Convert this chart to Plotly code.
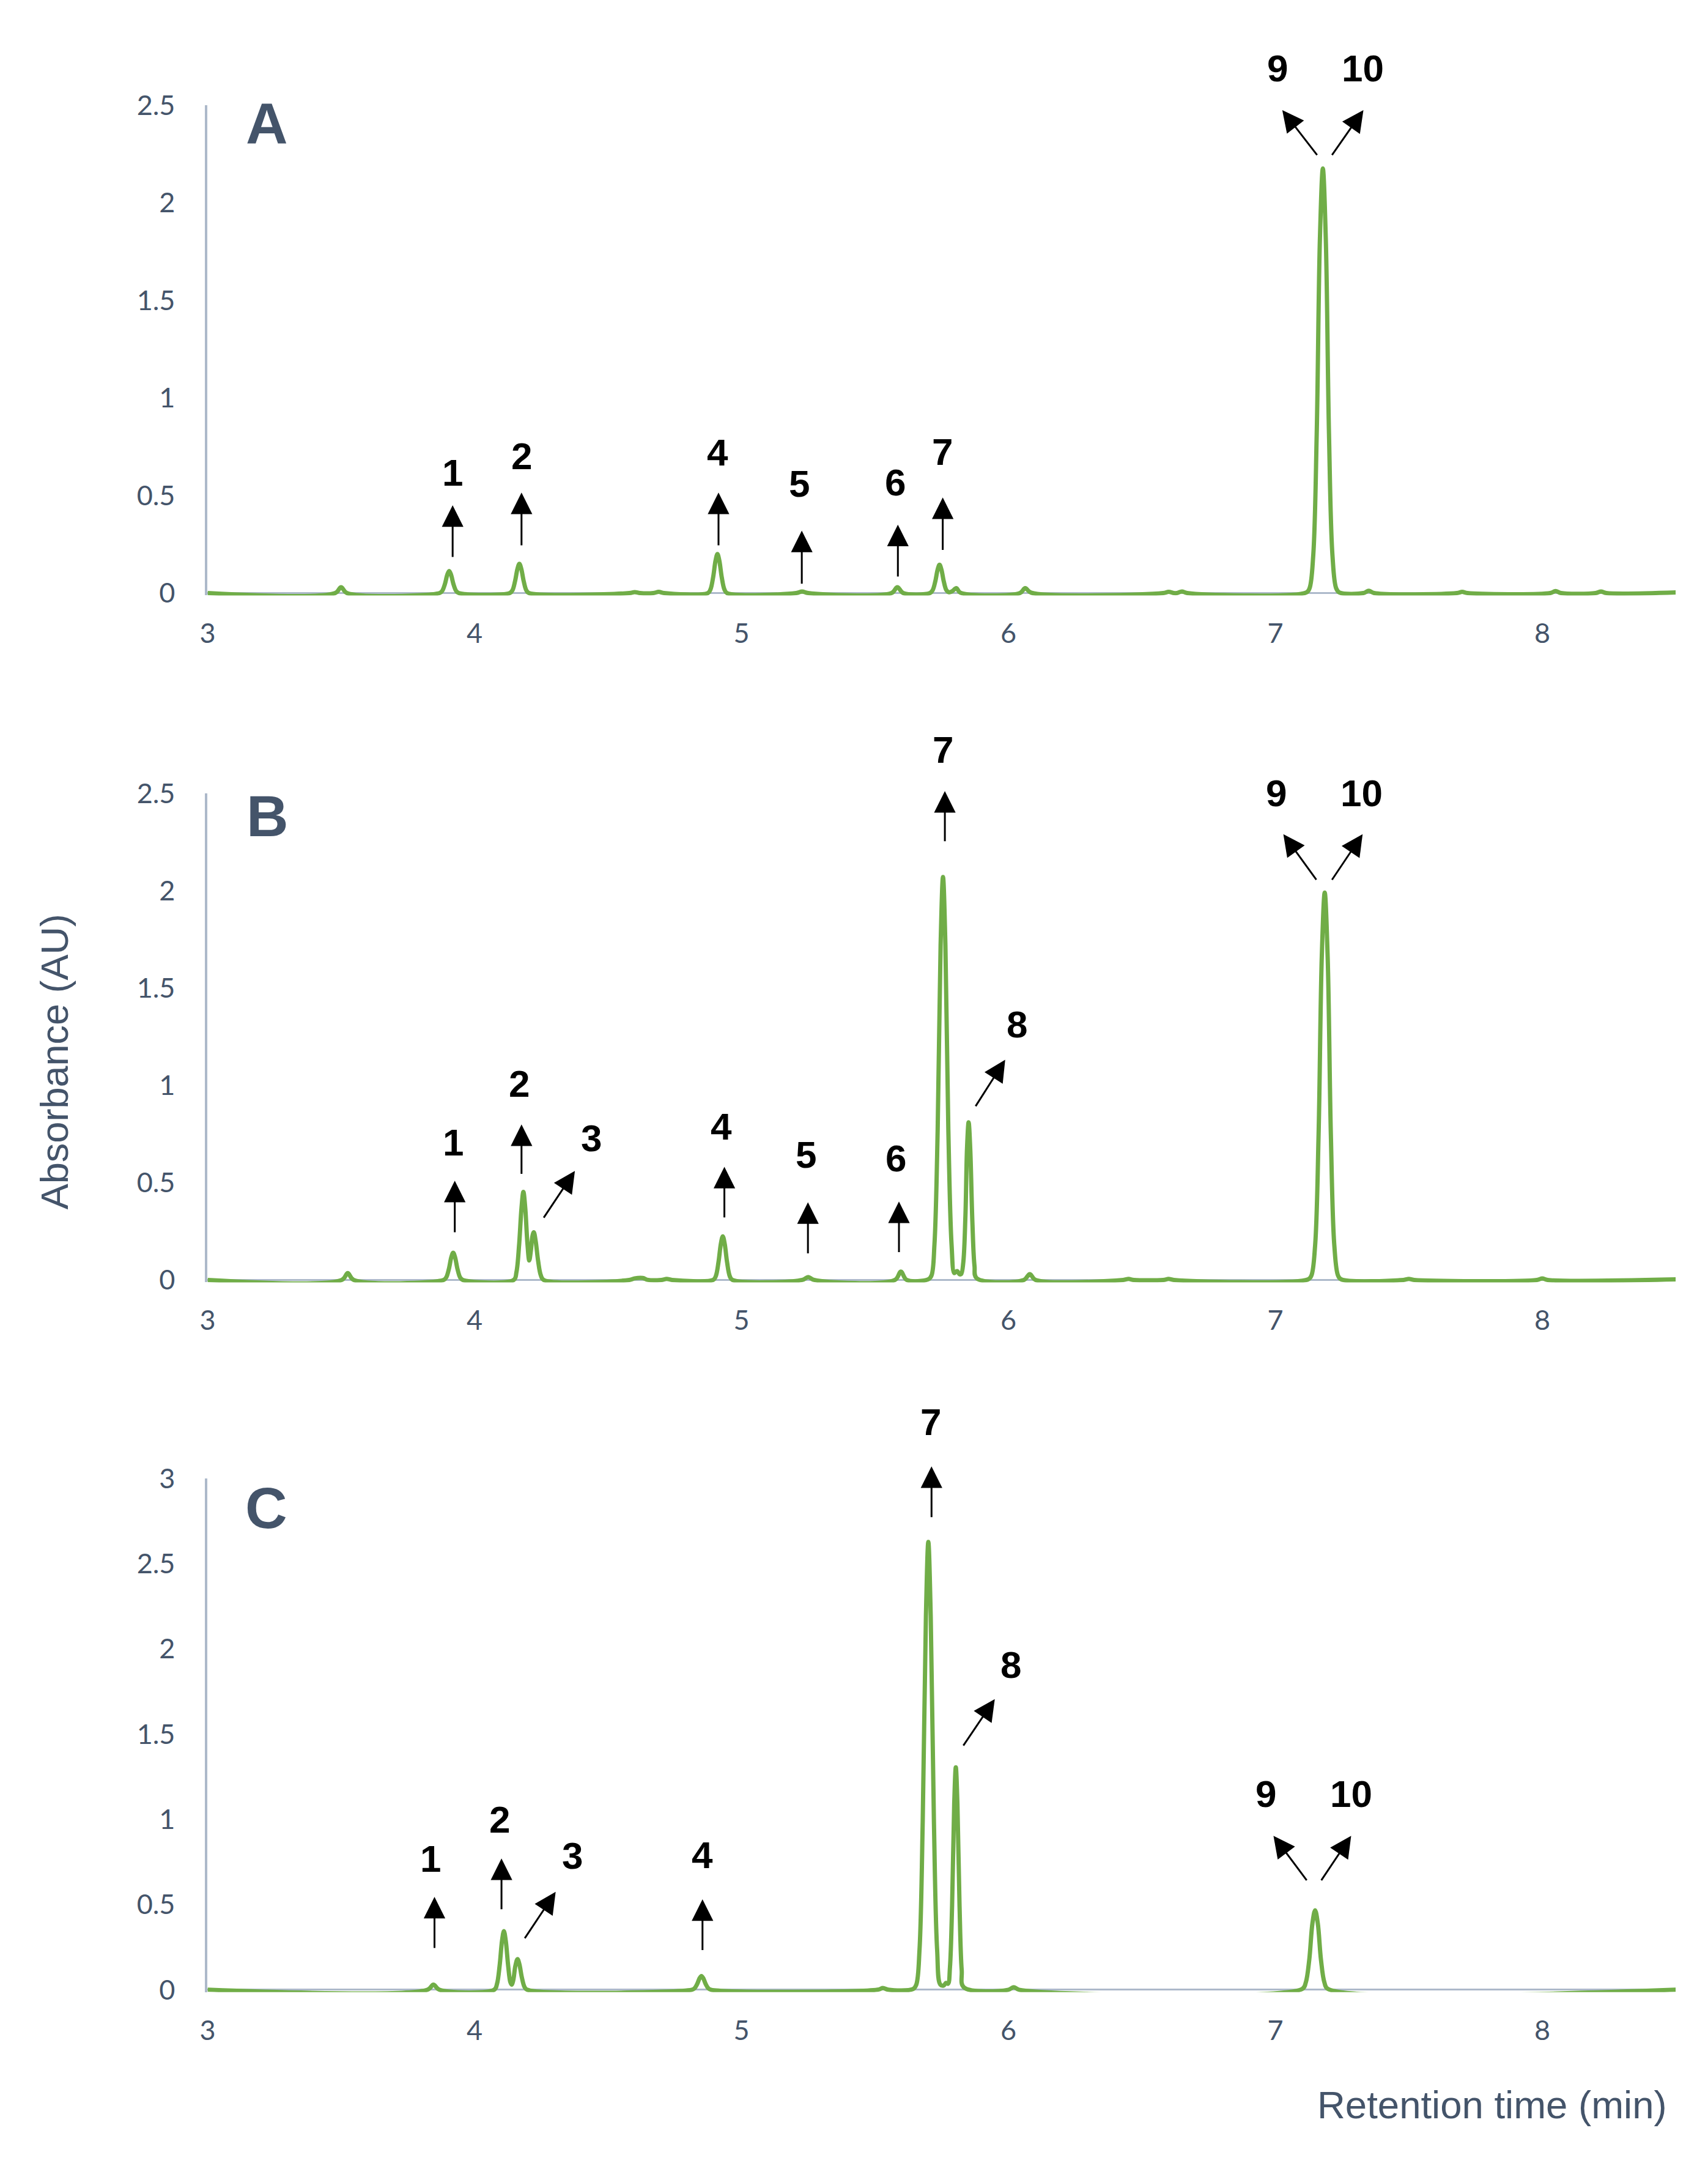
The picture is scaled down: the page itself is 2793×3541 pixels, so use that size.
import plotly.graph_objects as go

# ---------------- data ----------------
# Panel A chromatogram
time_A = [
    3.00, 3.478, 3.500, 3.522,
    3.869, 3.879, 3.889, 3.898, 3.905, 3.912, 3.921, 3.931, 3.941,
    4.132, 4.142, 4.152, 4.161, 4.168, 4.175, 4.184, 4.194, 4.204,
    4.580, 4.600, 4.620, 4.670, 4.690, 4.710,
    4.874, 4.884, 4.894, 4.903, 4.910, 4.917, 4.926, 4.936, 4.946,
    5.205, 5.227, 5.250,
    5.562, 5.584, 5.606,
    5.706, 5.716, 5.726, 5.735, 5.742, 5.749, 5.758, 5.768, 5.778, 5.790, 5.805, 5.820,
    6.043, 6.063, 6.085,
    6.580, 6.600, 6.620, 6.630, 6.650, 6.670,
    7.116, 7.128, 7.142, 7.155, 7.167, 7.178, 7.189, 7.201, 7.214, 7.228, 7.240,
    7.330, 7.350, 7.370, 7.680, 7.700, 7.720, 8.030, 8.050, 8.070, 8.200, 8.220, 8.240, 8.500]
abs_A = [
    0, 0, 0.030, 0,
    0, 0.011, 0.046, 0.094, 0.113, 0.094, 0.046, 0.011, 0,
    0, 0.014, 0.062, 0.125, 0.150, 0.125, 0.062, 0.014, 0,
    0, 0.005, 0, 0, 0.006, 0,
    0, 0.019, 0.082, 0.167, 0.200, 0.167, 0.082, 0.019, 0,
    0, 0.008, 0,
    0, 0.030, 0,
    0, 0.014, 0.059, 0.121, 0.145, 0.121, 0.059, 0.014, 0.004, 0.010, 0.025, 0.002,
    0, 0.025, 0.002,
    0, 0.006, 0, 0, 0.008, 0,
    0.003, 0.024, 0.193, 0.816, 1.816, 2.175, 1.816, 0.816, 0.193, 0.024, 0.003,
    0, 0.012, 0, 0, 0.006, 0, 0, 0.010, 0, 0, 0.008, 0, 0.003]

# Panel B chromatogram
time_B = [
    3.00, 3.503, 3.525, 3.547,
    3.884, 3.894, 3.904, 3.913, 3.920, 3.927, 3.936, 3.946, 3.956,
    4.147, 4.157, 4.167, 4.176, 4.183, 4.190, 4.198, 4.205, 4.211, 4.217, 4.222, 4.229, 4.238, 4.248, 4.259,
    4.580, 4.600, 4.630, 4.650, 4.700, 4.720, 4.740,
    4.894, 4.904, 4.914, 4.923, 4.930, 4.937, 4.946, 4.956, 4.966,
    5.228, 5.250, 5.272,
    5.575, 5.597, 5.619,
    5.700, 5.712, 5.723, 5.735, 5.746, 5.755, 5.764, 5.775, 5.787, 5.797, 5.803, 5.809, 5.816,
    5.823, 5.831, 5.839, 5.845, 5.851, 5.857, 5.865, 5.873, 5.881,
    6.058, 6.080, 6.102,
    6.430, 6.450, 6.470, 6.580, 6.600, 6.620,
    7.123, 7.135, 7.149, 7.162, 7.174, 7.185, 7.196, 7.208, 7.221, 7.235, 7.247,
    7.480, 7.500, 7.520, 7.980, 8.000, 8.020, 8.500]
abs_B = [
    0, 0, 0.035, 0,
    0, 0.013, 0.057, 0.117, 0.140, 0.117, 0.057, 0.013, 0,
    0, 0.040, 0.180, 0.370, 0.452, 0.370, 0.190, 0.100, 0.150, 0.225, 0.245, 0.200, 0.100, 0.025, 0,
    0, 0.008, 0.010, 0, 0, 0.005, 0,
    0, 0.020, 0.092, 0.187, 0.224, 0.187, 0.092, 0.020, 0,
    0, 0.015, 0,
    0, 0.043, 0,
    0.003, 0.023, 0.183, 0.770, 1.720, 2.070, 1.720, 0.770, 0.183, 0.035, 0.042, 0.045, 0.030,
    0.030, 0.090, 0.330, 0.676, 0.810, 0.676, 0.300, 0.072, 0.009,
    0, 0.030, 0,
    0, 0.005, 0, 0, 0.005, 0,
    0.003, 0.022, 0.177, 0.746, 1.660, 1.990, 1.660, 0.746, 0.177, 0.022, 0.003,
    0, 0.005, 0, 0, 0.008, 0, 0.003]

# Panel C chromatogram
time_C = [
    3.00, 3.824, 3.846, 3.868,
    4.074, 4.084, 4.094, 4.103, 4.110, 4.117, 4.126, 4.134, 4.139, 4.145, 4.153, 4.161, 4.168, 4.177, 4.187, 4.197,
    4.814, 4.824, 4.834, 4.843, 4.850, 4.857, 4.866, 4.876, 4.886,
    5.510, 5.530, 5.550,
    5.643, 5.655, 5.667, 5.679, 5.691, 5.700, 5.709, 5.721, 5.733, 5.745,
    5.758, 5.766, 5.774, 5.781, 5.789, 5.797, 5.803, 5.809, 5.817, 5.825, 5.833,
    6.000, 6.020, 6.040,
    7.101, 7.114, 7.127, 7.139, 7.149, 7.159, 7.171, 7.184, 7.197,
    8.500]
abs_C = [
    0, 0, 0.030, 0,
    0, 0.033, 0.141, 0.287, 0.344, 0.287, 0.140, 0.045, 0.030, 0.055, 0.140, 0.180, 0.150, 0.074, 0.017, 0,
    0, 0.008, 0.033, 0.067, 0.080, 0.067, 0.033, 0.008, 0,
    0, 0.010, 0,
    0.004, 0.030, 0.234, 0.985, 2.190, 2.627, 2.190, 0.985, 0.234, 0.030,
    0.025, 0.040, 0.035, 0.130, 0.490, 1.090, 1.305, 1.090, 0.490, 0.116, 0.014,
    0, 0.015, 0,
    0.005, 0.042, 0.175, 0.390, 0.466, 0.390, 0.175, 0.042, 0.005,
    0]

# Peak labels and arrows (data coordinates): tail -> head
labels_A = ["1", "2", "4", "5", "6", "7", "9", "10"]
tail_x_A = [3.918, 4.176, 4.914, 5.226, 5.586, 5.754, 7.159, 7.210]
tail_y_A = [0.180, 0.240, 0.240, 0.043, 0.080, 0.216, 2.240, 2.240]
head_x_A = [3.918, 4.176, 4.914, 5.226, 5.586, 5.754, 7.026, 7.330]
head_y_A = [0.450, 0.515, 0.515, 0.320, 0.350, 0.490, 2.475, 2.475]
label_x_A = [3.918, 4.177, 4.910, 5.217, 5.576, 5.752, 7.007, 7.328]
label_y_A = [0.618, 0.702, 0.721, 0.561, 0.567, 0.723, 2.688, 2.688]

labels_B = ["1", "2", "3", "4", "5", "6", "7", "8", "9", "10"]
tail_x_B = [3.926, 4.176, 4.257, 4.936, 5.249, 5.590, 5.762, 5.875, 7.156, 7.210]
tail_y_B = [0.240, 0.540, 0.315, 0.316, 0.132, 0.138, 2.249, 0.888, 2.051, 2.051]
head_x_B = [3.926, 4.176, 4.376, 4.936, 5.249, 5.590, 5.762, 5.988, 7.030, 7.327]
head_y_B = [0.510, 0.799, 0.560, 0.581, 0.399, 0.403, 2.511, 1.131, 2.290, 2.290]
label_x_B = [3.919, 4.168, 4.437, 4.925, 5.241, 5.579, 5.755, 6.033, 7.004, 7.323]
label_y_B = [0.708, 1.007, 0.729, 0.790, 0.643, 0.625, 2.725, 1.312, 2.500, 2.500]

labels_C = ["1", "2", "3", "4", "7", "8", "9", "10"]
tail_x_C = [3.850, 4.101, 4.186, 4.854, 5.712, 5.829, 7.120, 7.170]
tail_y_C = [0.240, 0.467, 0.297, 0.227, 2.767, 1.427, 0.637, 0.637]
head_x_C = [3.850, 4.101, 4.304, 4.854, 5.712, 5.949, 6.993, 7.284]
head_y_C = [0.545, 0.770, 0.574, 0.530, 3.070, 1.705, 0.903, 0.903]
label_x_C = [3.834, 4.095, 4.366, 4.854, 5.708, 6.009, 6.965, 7.284]
label_y_C = [0.770, 1.000, 0.787, 0.790, 3.330, 1.908, 1.150, 1.150]

panel_letters = ["A", "B", "C"]
y_max = [2.5, 2.5, 3.0]
x_range = [3, 8.5]
x_title = "Retention time (min)"
y_title = "Absorbance (AU)"

# ---------------- layout geometry (pixels) ----------------
W, H = 2793, 3541
X_LEFT_PX, X_RIGHT_PX = 328, 2740
# (pixel of y=0, pixel of y=y_max)
panel_px = [(955, 146), (2094, 1287), (3271, 2423)]
letter_px = [(425, 176), (426, 1325), (424, 2472)]
BOTTOM_PAD_PX = 4

GREEN = "#70AD47"
SLATE = "#44546A"
AXIS_GRAY = "#ADB9CA"

fig = go.Figure()

series = [(time_A, abs_A), (time_B, abs_B), (time_C, abs_C)]
arrows = [
    (labels_A, tail_x_A, tail_y_A, head_x_A, head_y_A, label_x_A, label_y_A),
    (labels_B, tail_x_B, tail_y_B, head_x_B, head_y_B, label_x_B, label_y_B),
    (labels_C, tail_x_C, tail_y_C, head_x_C, head_y_C, label_x_C, label_y_C),
]

annotations = []
layout_axes = {}
for i in range(3):
    n = "" if i == 0 else str(i + 1)
    xa, ya = "x" + n, "y" + n
    t, a = series[i]
    fig.add_trace(go.Scatter(
        x=t, y=a, mode="lines", xaxis=xa, yaxis=ya,
        line=dict(color=GREEN, width=7, shape="spline", smoothing=1.0),
        showlegend=False, hoverinfo="skip"))

    y0_px, ytop_px = panel_px[i]
    scale = (y0_px - ytop_px) / y_max[i]
    y_min = -BOTTOM_PAD_PX / scale
    bottom_px = y0_px + BOTTOM_PAD_PX
    ydom = [1 - bottom_px / H, 1 - ytop_px / H]

    layout_axes["xaxis" + n] = dict(
        domain=[X_LEFT_PX / W, X_RIGHT_PX / W], range=x_range, anchor=ya,
        tick0=3, dtick=1, showline=False, showgrid=False, zeroline=False,
        ticks="", ticklabelstandoff=32,
        tickfont=dict(family="Lato", size=45, color=SLATE))
    layout_axes["yaxis" + n] = dict(
        domain=ydom, range=[y_min, y_max[i]], anchor=xa,
        tick0=0, dtick=0.5, showline=True, linecolor=AXIS_GRAY, linewidth=4,
        showgrid=False, zeroline=True, zerolinecolor=AXIS_GRAY, zerolinewidth=3,
        ticks="", ticklabelstandoff=40,
        tickfont=dict(family="Lato", size=45, color=SLATE))

    labs, tx, ty, hx, hy, lx, ly = arrows[i]
    for k in range(len(labs)):
        # visible arrow: tail near the peak, head pointing to the label
        annotations.append(dict(
            xref=xa, yref=ya, axref=xa, ayref=ya,
            x=hx[k], y=hy[k], ax=tx[k], ay=ty[k], text="",
            showarrow=True, arrowhead=2, arrowsize=2.35, arrowwidth=3,
            arrowcolor="black", standoff=0, startstandoff=0))
        # label: anchored at the (always in-range) arrow tail, text at label position
        annotations.append(dict(
            xref=xa, yref=ya, axref=xa, ayref=ya,
            x=tx[k], y=ty[k], ax=lx[k], ay=ly[k], text=labs[k],
            showarrow=True, arrowhead=0, arrowwidth=0.1,
            arrowcolor="rgba(0,0,0,0)",
            font=dict(family="Liberation Sans", size=62, color="black", weight="bold")))

    lx_px, ly_px = letter_px[i]
    annotations.append(dict(
        xref="paper", yref="paper", x=lx_px / W, y=1 - ly_px / H,
        text=panel_letters[i], showarrow=False, xanchor="center", yanchor="middle",
        font=dict(family="Liberation Sans", size=95, color=SLATE, weight="bold")))

annotations.append(dict(
    xref="paper", yref="paper", x=76 / W, y=1 - 1732 / H, text=y_title,
    showarrow=False, textangle=-90, xanchor="center", yanchor="middle",
    font=dict(family="Liberation Sans", size=63, color=SLATE)))
annotations.append(dict(
    xref="paper", yref="paper", x=2728 / W, y=1 - 3462 / H, text=x_title,
    showarrow=False, xanchor="right", yanchor="middle",
    font=dict(family="Liberation Sans", size=63.5, color=SLATE)))

fig.update_layout(
    width=W, height=H, margin=dict(l=0, r=0, t=0, b=0),
    paper_bgcolor="white", plot_bgcolor="white",
    annotations=annotations, **layout_axes)

fig.write_html(
    "out.html",
    config={"displayModeBar": False},
    post_script="document.documentElement.style.margin='0';"
                "document.body.style.margin='0';"
                "document.body.style.overflow='hidden';")
